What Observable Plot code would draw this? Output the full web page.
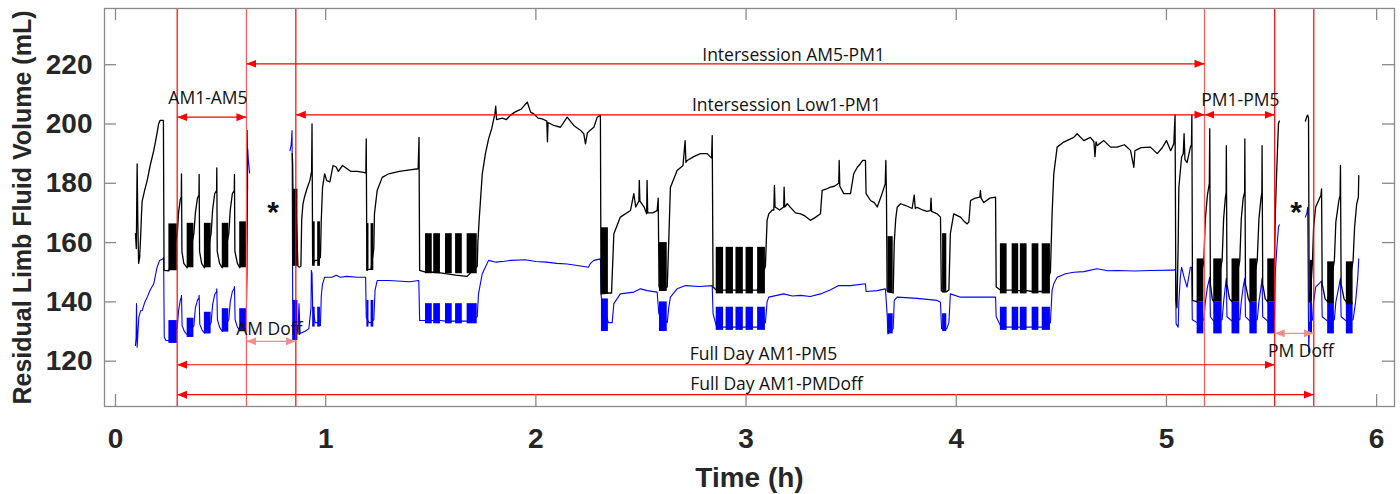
<!DOCTYPE html>
<html><head><meta charset="utf-8">
<script src="https://cdn.jsdelivr.net/npm/d3@7"></script>
<script src="https://cdn.jsdelivr.net/npm/@observablehq/plot@0.6"></script>
<style>body{margin:0;background:#fff}</style>
</head><body><div id="chart"></div>
<script>
// ---------- tick values ----------
const xTicks = [0, 1, 2, 3, 4, 5, 6];
const yTicks = [120, 140, 160, 180, 200, 220];

// ---------- black trace (t [h], volume [mL]) ----------
const blackAM = [[0.095,163],[0.099,158],[0.103,186.5],[0.106,168],[0.110,153],[0.115,155],[0.119,161],[0.124,170],[0.127,174],[0.140,178],[0.151,181],[0.165,186],[0.182,191],[0.190,194],[0.198,197],[0.205,200],[0.212,201.2],[0.228,201.2],[0.231,150.6],[0.254,150.5],
[0.294,163],[0.300,170],[0.308,174.5],[0.313,175.5],[0.314,183.2],[0.316,157],[0.325,153],[0.341,151.5],
[0.373,163],[0.380,170],[0.390,175],[0.397,176],[0.398,183],[0.400,157],[0.410,153],[0.423,151.5],
[0.455,163],[0.462,171],[0.472,176.5],[0.481,177.5],[0.482,185.2],[0.484,157],[0.495,153],[0.508,151.5],
[0.539,163],[0.546,171],[0.556,176.5],[0.565,177.5],[0.566,183],[0.568,157],[0.580,153],[0.591,151.5],
[0.623,160],[0.626,197.8],[0.628,178]];

const blackMid = [[0.841,190],[0.843,186],[0.846,160],[0.850,176],[0.855,155],[0.860,170],[0.868,152],[0.875,151.7],[0.882,152],[0.886,168],[0.892,173],[0.899,175.3],[0.910,178],[0.925,181],[0.933,184],[0.935,200],[0.938,152.8],[0.950,154],[0.962,154],[0.975,155],[0.979,167.5],[0.985,178.6],[0.995,183.2],[1.005,180.9],[1.02,180.5],[1.035,186],[1.05,185.5],[1.06,184],[1.08,186],[1.10,185],[1.12,184],[1.15,184],[1.18,183.7],[1.191,183.5],[1.193,195],[1.196,150.6],[1.206,151],[1.216,151],[1.229,158],[1.232,169.7],[1.245,177.6],[1.269,182],[1.30,183.2],[1.35,184],[1.40,184.5],[1.44,184.9],[1.444,195.5],[1.447,150.6],[1.475,150],
[1.507,150],[1.514,150],[1.546,149.8],[1.570,149.5],[1.602,149.2],[1.618,149],[1.650,148.8],[1.673,148.6],[1.721,152],
[1.724,160],[1.730,167.5],[1.745,183.2],[1.76,190],[1.775,195],[1.790,198.5],[1.805,203.4],[1.809,206],[1.813,201.5],[1.84,202],[1.86,201.5],[1.88,203],[1.90,204],[1.93,205],[1.959,207.4],[1.975,204],[1.99,203.4],[2.01,202],[2.03,201.7],[2.052,201],[2.055,194],[2.058,200.5],[2.085,199.5],[2.117,198.9],[2.149,202.3],[2.18,199.5],[2.21,198],[2.228,196.7],[2.236,193.3],[2.245,197],[2.26,198],[2.276,198.9],[2.292,202.3],[2.307,203],[2.310,142.7],
[2.345,143],[2.360,143],[2.371,163],[2.402,168.6],[2.45,170.8],[2.466,176.5],[2.475,172],[2.49,174],[2.492,181],[2.495,174],[2.515,172],[2.527,169.7],[2.529,181],[2.532,170],[2.555,170],[2.577,170.8],[2.582,175],[2.586,145],[2.625,145],[2.632,160],[2.64,178.6],[2.672,184.3],[2.70,186],[2.710,194.4],[2.714,187],[2.72,187.7],[2.751,189],[2.783,190],[2.815,190],[2.836,188.5],[2.839,196.1],[2.843,145],[2.858,144],
[2.893,144],[2.905,144],[2.94,144],[2.952,144],[2.987,144],[3.0,144],[3.035,144],[3.055,144],[3.092,152],
[3.100,167.5],[3.108,169.7],[3.125,171],[3.132,171],[3.135,179.3],[3.138,172],[3.16,171],[3.179,172],[3.181,178.7],[3.184,172],[3.196,173.1],[3.211,171.9],[3.235,170],[3.259,169.7],[3.28,169],[3.306,167.5],[3.33,168.5],[3.354,169.7],[3.362,177.6],[3.38,178],[3.401,178.7],[3.42,179],[3.441,180],[3.443,187.7],[3.446,179],[3.465,176.5],[3.497,176.5],[3.512,183.2],[3.53,185.5],[3.544,186.6],[3.555,187.7],[3.568,187.7],[3.571,176.5],[3.592,174.2],[3.61,173.5],[3.624,172],[3.647,176.5],[3.662,179.8],[3.665,187.7],[3.668,176],[3.671,143.8],[3.675,143.5],[3.70,143],[3.705,160],[3.712,168],[3.719,171.9],[3.735,173.1],[3.76,172.5],[3.79,171.5],[3.80,176],[3.805,171.5],[3.814,171.9],[3.84,171],[3.86,170.5],[3.877,170.8],[3.88,175],[3.883,170.5],[3.909,169.7],[3.925,168.6],[3.929,143.8],[3.935,143.5],[3.955,143.5],[3.965,144],[3.972,163],[3.988,169.7],[4.02,168.6],[4.04,167],[4.052,166.3],[4.06,167],[4.068,174.2],[4.09,175],[4.112,175.3],[4.115,177.6],[4.118,175],[4.131,173.5],[4.16,175],[4.187,175.3],[4.19,145],[4.21,144],
[4.242,144],[4.266,144],[4.297,143.8],[4.305,143.8],[4.337,143.8],[4.361,143.5],[4.393,143.5],[4.409,143.5],[4.448,150],
[4.456,169.7],[4.464,183.2],[4.48,192.2],[4.511,193.9],[4.559,195.5],[4.575,196.7],[4.607,194.4],[4.638,195.5],[4.655,194],[4.66,189],[4.665,194],[4.670,192.7],[4.702,194.4],[4.734,192.2],[4.765,192.2],[4.80,193],[4.829,191.1],[4.845,185.4],[4.85,191],[4.88,192],[4.924,192.2],[4.956,190],[4.98,192],[5.0,194.4],[5.02,191],[5.035,193.3],[5.041,203],[5.045,140.5],[5.05,138],[5.056,160],[5.059,178.6],[5.072,188.8],[5.08,190],[5.084,196.7],[5.088,188],[5.098,187],[5.114,192.2],[5.119,193],[5.121,203],[5.124,140.5],[5.146,140],
[5.178,154],[5.185,168],[5.195,176],[5.204,180],[5.206,198.4],[5.209,146],[5.218,141],[5.225,140],
[5.265,154],[5.272,168],[5.28,175],[5.284,177],[5.285,192.7],[5.288,146],[5.30,141],[5.312,140],
[5.349,154],[5.356,168],[5.365,175],[5.372,177],[5.373,195],[5.376,146],[5.39,141],[5.397,140],
[5.432,154],[5.44,168],[5.45,175],[5.454,177],[5.455,192.7],[5.458,146],[5.47,141],[5.482,140],
[5.514,154],[5.518,169.7],[5.525,185],[5.533,200.1],[5.537,201]];

const blackPM = [[5.661,201],[5.668,202.5],[5.672,203],[5.676,202],[5.679,140],[5.683,140],[5.695,154],[5.70,165],[5.71,172],[5.735,176],[5.738,178.1],[5.741,146],[5.755,141],[5.767,140],[5.799,154],[5.806,167],[5.82,174],[5.826,176],[5.828,186],[5.831,146],[5.845,141],[5.856,140],[5.888,154],[5.895,165],[5.905,173],[5.913,175.3],[5.915,182.6]];

// ---------- blue trace ----------
const blueAM = [[0.095,125.3],[0.098,128],[0.100,139.4],[0.103,124.7],[0.107,130],[0.111,134.8],[0.119,137],[0.127,137.1],[0.14,140],[0.151,141.6],[0.165,144],[0.182,146.1],[0.198,151.7],[0.21,154],[0.225,154.5],[0.229,155],[0.232,128.1],[0.24,127],[0.254,127],
[0.294,131.5],[0.300,137],[0.308,140.5],[0.313,141.5],[0.314,142.2],[0.317,132],[0.328,130],[0.341,129],
[0.373,132],[0.38,138],[0.39,140.5],[0.397,141.5],[0.398,142.2],[0.401,132.5],[0.412,130.5],[0.423,129.5],
[0.455,133],[0.462,139],[0.472,142.5],[0.481,143.5],[0.482,144.4],[0.485,134],[0.495,131.5],[0.508,130],
[0.539,134],[0.546,140],[0.556,143.5],[0.565,144.5],[0.566,145.2],[0.569,134],[0.58,131.5],[0.591,130.5],
[0.623,138],[0.626,150],[0.629,191.7],[0.632,188],[0.638,183.5]];

const blueMid = [[0.830,191],[0.836,193],[0.840,197.8],[0.843,140.5],[0.868,129.3],[0.873,139.4],[0.878,129.3],[0.90,130],[0.92,131],[0.930,138],[0.932,150.6],[0.935,149.5],[0.938,138.2],[0.950,133],[0.962,133],[0.975,132],[0.979,142],[0.985,146],[0.995,148.3],[1.03,148.3],[1.05,149],[1.07,148.3],[1.10,148.6],[1.15,148.3],[1.19,148.3],[1.193,134.8],[1.206,133],[1.216,133],[1.229,134],[1.235,144],[1.245,147.2],[1.30,147.2],[1.40,146.8],[1.443,147.2],[1.447,133.7],[1.475,133.7],
[1.507,133.7],[1.514,133.7],[1.546,133.7],[1.570,133.5],[1.602,133.5],[1.618,133.5],[1.650,133.5],[1.673,133.5],[1.721,135],
[1.727,142.7],[1.745,149.5],[1.775,154],[1.81,153.4],[1.85,153.7],[1.88,154],[1.95,154.2],[2.0,153.6],[2.05,153.4],[2.10,153],[2.149,152.8],[2.22,152],[2.25,151.7],[2.26,153],[2.276,154],[2.307,154.5],[2.311,141.6],[2.345,133],[2.363,133],[2.371,139.4],[2.402,142.7],[2.466,143.3],[2.498,144.4],[2.529,143.8],[2.577,143.3],[2.585,136],[2.625,133],[2.632,138],[2.64,141.6],[2.672,144.4],[2.712,145.5],[2.78,145.2],[2.839,145.5],[2.843,136],[2.858,132],
[2.893,131.5],[2.905,131.5],[2.94,131.5],[2.952,131.5],[2.987,131.5],[3.0,131.5],[3.035,131.5],[3.055,131.5],[3.092,133],
[3.10,140],[3.108,141.6],[3.179,142.7],[3.22,142],[3.259,142.2],[3.306,141.8],[3.354,142.7],[3.40,144],[3.441,145.5],[3.497,145.5],[3.568,146.1],[3.571,143.5],[3.624,143.8],[3.663,144.4],[3.671,136],[3.675,129.2],[3.70,131],[3.705,140.5],[3.719,141.6],[3.814,141.2],[3.909,140.5],[3.925,139.9],[3.93,131],[3.955,131],[3.965,133],[3.972,142.7],[4.02,141.6],[4.115,141.6],[4.187,141.6],[4.19,135],[4.21,132],
[4.242,131.5],[4.266,131.5],[4.297,131.5],[4.305,131.5],[4.337,131.5],[4.361,131.5],[4.393,131.5],[4.409,131.5],[4.448,133],
[4.456,144],[4.464,146.1],[4.48,148.3],[4.52,149.5],[4.559,150],[4.607,150.2],[4.67,151.2],[4.72,150.5],[4.765,150.6],[4.85,150.4],[4.924,150.6],[5.035,150.7],[5.043,151],[5.046,132.6],[5.056,131.5],[5.059,140],[5.066,148.3],[5.072,151.7],[5.085,148],[5.098,145],[5.114,151.7],[5.12,151.7],[5.123,134],[5.146,133],
[5.178,134],[5.185,140],[5.195,145],[5.206,148.3],[5.209,135],[5.225,133.5],
[5.265,134],[5.272,140],[5.28,145],[5.285,148],[5.288,135],[5.312,133.5],
[5.349,134],[5.356,140],[5.365,145],[5.373,148],[5.376,135],[5.397,133.5],
[5.432,134],[5.44,140],[5.45,145],[5.455,148],[5.458,135],[5.482,133.5],
[5.514,134],[5.518,150],[5.525,158],[5.533,165.2],[5.537,166]];

const bluePM = [[5.661,168.6],[5.668,170],[5.672,171.9],[5.675,140],[5.677,123],[5.680,133],[5.683,133],[5.695,134],[5.70,140],[5.71,145],[5.738,147],[5.741,135],[5.767,133.5],[5.799,134],[5.806,140],[5.82,145],[5.828,148],[5.831,135],[5.856,133.5],[5.888,134],[5.90,140],[5.91,148],[5.915,154.5]];

// ---------- dense oscillation bursts (start, end, black range, blue range) ----------
const burstStart = [0.254,0.341,0.423,0.508,0.591, 0.843,0.938,0.962,1.196,1.216, 1.475,1.514,1.570,1.618,1.673, 2.312,2.588, 2.858,2.905,2.952,3.000,3.055, 3.675,3.935, 4.210,4.266,4.305,4.361,4.409, 5.146,5.225,5.312,5.397,5.482, 5.683,5.767,5.856];
const burstEnd   = [0.294,0.373,0.455,0.539,0.623, 0.868,0.950,0.975,1.206,1.229, 1.507,1.546,1.602,1.650,1.721, 2.345,2.625, 2.893,2.940,2.987,3.035,3.092, 3.700,3.955, 4.242,4.297,4.337,4.393,4.448, 5.178,5.265,5.349,5.432,5.514, 5.695,5.799,5.888];
const blackLow   = [150.5,151.5,151.5,151.5,151.5, 152,152,152,150.6,150.6, 149.5,149.5,149.5,149.5,149.5, 142.7,143.5, 142.7,142.7,142.7,142.7,142.7, 143,143, 142.7,142.7,142.7,142.7,142.7, 139.9,139.9,139.9,139.9,139.9, 139.9,139.5,139];
const blackHigh  = [166.3,166.5,166.5,166.5,167, 178,167,167,166.4,166.4, 163,163,163,163,163, 165,160, 158.4,158.4,158.4,158.4,158.4, 162,163, 159.6,159.6,159.6,159.6,159.6, 154.5,154.5,154.5,154.5,154.5, 154,153.5,153.5];
const blueLow    = [126,128,129.2,129.8,130, 127,131.5,131.5,131.5,131.5, 132.6,132.6,132.6,132.6,132.6, 130,130, 130.4,130.4,130.4,130.4,130.4, 129.2,130, 130.4,130.4,130.4,130.4,130.4, 129.2,129.2,129.2,129.2,129.2, 129.2,129.2,129.2];
const blueHigh   = [133.7,134.5,136.5,137.7,137.7, 140.5,138.2,138.2,140.5,140.5, 139.4,139.4,139.4,139.4,139.4, 141,140, 138.2,138.2,138.2,138.2,138.2, 136,136, 138.2,138.2,138.2,138.2,138.2, 139.9,139.9,139.9,139.9,139.9, 139.9,139.9,139.9];

// ---------- annotations ----------
const markerLines = [0.2935, 0.858, 5.515, 5.701];
const markerLinesLight = [0.623, 5.181];
const spanLabel = ["Intersession AM5-PM1","Intersession Low1-PM1","AM1-AM5","PM1-PM5","AM Doff","PM Doff","Full Day AM1-PM5","Full Day AM1-PMDoff"];
const spanFrom  = [0.623, 0.858, 0.2935, 5.181, 0.623, 5.515, 0.2935, 0.2935];
const spanTo    = [5.181, 5.181, 0.623, 5.515, 0.858, 5.701, 5.515, 5.701];
const spanY     = [220.3, 203.1, 202.3, 203.1, 126.7, 129.4, 118.8, 108.7];
const spanKind  = ["main","main","main","main","doff","doff","main","main"];
const labelX    = [3.226, 3.192, 0.440, 5.352, 0.732, 5.640, 3.083, 3.145];
const labelY    = [221.2, 204.3, 206.8, 206.2, 128.7, 121.35, 120.25, 110.35];
const starX = [0.750, 5.617];
const starY = [166.9, 166.9];

// ---------- build tables ----------
const toRows = (arr, seg) => arr.map(([t, v]) => ({t, v, seg}));
const black = [...toRows(blackAM, "a"), ...toRows(blackMid, "b"), ...toRows(blackPM, "c")];
const blue  = [...toRows(blueAM, "a"), ...toRows(blueMid, "b"), ...toRows(bluePM, "c")];
const bursts = burstStart.map((s, i) => ({s, e: burstEnd[i], bl: blackLow[i], bh: blackHigh[i], ul: blueLow[i], uh: blueHigh[i]}));
const spans = spanLabel.map((label, i) => ({label, x1: spanFrom[i], x2: spanTo[i], y: spanY[i], kind: spanKind[i], lx: labelX[i], ly: labelY[i]}));
const stars = starX.map((x, i) => ({x, y: starY[i]}));

function head(color) {
  const m = d3.create("svg:marker")
    .attr("viewBox", "0 -5 10 10")
    .attr("refX", 10).attr("refY", 0)
    .attr("markerWidth", 10).attr("markerHeight", 10)
    .attr("markerUnits", "userSpaceOnUse")
    .attr("orient", "auto-start-reverse");
  m.append("path").attr("d", "M0,-4L10,0L0,4Z").attr("fill", color).attr("stroke", "none");
  return m.node();
}

const W = 1400, H = 494, ML = 104, MR = 6, MT = 8, MB = 88;
const xDomain = [-0.0523, 6.085], yDomain = [104.72, 238.95];
const frameW = W - ML - MR, frameH = H - MT - MB, tickLen = 12;
// inward tick length expressed in each scale's units
const tx = tickLen * (xDomain[1] - xDomain[0]) / frameW;
const ty = tickLen * (yDomain[1] - yDomain[0]) / frameH;
const axisGray = "#8a8a8a";
const ink = "#262626";
const tickFont = {fontSize: 28, fontWeight: "bold", fill: ink};
const tickStyle = {stroke: axisGray, strokeWidth: 1.3};

const chart = Plot.plot({
  width: W, height: H,
  marginLeft: ML, marginRight: MR, marginTop: MT, marginBottom: MB,
  style: {fontFamily: "'Liberation Sans', Arial, sans-serif", background: "#fff", overflow: "visible"},
  x: {domain: xDomain},
  y: {domain: yDomain},
  marks: [
    Plot.rect(bursts, {x1: "s", x2: "e", y1: "ul", y2: "uh", fill: "#0000ff"}),
    Plot.line(blue, {x: "t", y: "v", z: "seg", stroke: "#0000ff", strokeWidth: 1.1}),
    Plot.rect(bursts, {x1: "s", x2: "e", y1: "bl", y2: "bh", fill: "#000"}),
    Plot.line(black, {x: "t", y: "v", z: "seg", stroke: "#000", strokeWidth: 1.3}),
    Plot.ruleX(markerLines, {stroke: "#ff0000", strokeWidth: 1.2}),
    Plot.ruleX(markerLinesLight, {stroke: "#ff5a5a", strokeWidth: 1.2}),
    Plot.link(spans, {x1: "x1", x2: "x2", y1: "y", y2: "y",
      stroke: d => d.kind === "doff" ? "#ff8a8a" : "#ff0000", strokeWidth: 1.2,
      markerStart: head, markerEnd: head}),
    Plot.text(spans, {x: "lx", y: "ly", text: "label", lineAnchor: "bottom", fontFamily: "'Open Sans', sans-serif", fontSize: 17.5, fill: "#111"}),
    Plot.text(stars, {x: "x", y: "y", text: () => "*", lineAnchor: "bottom", fontSize: 30, fontWeight: "bold", fill: "#111"}),
    Plot.frame({stroke: axisGray, strokeWidth: 1.3}),
    // inward MATLAB-style ticks on all four sides
    Plot.ruleX(xTicks, {y1: yDomain[0], y2: yDomain[0] + ty, ...tickStyle}),
    Plot.ruleX(xTicks, {y1: yDomain[1] - ty, y2: yDomain[1], ...tickStyle}),
    Plot.ruleY(yTicks, {x1: xDomain[0], x2: xDomain[0] + tx, ...tickStyle}),
    Plot.ruleY(yTicks, {x1: xDomain[1] - tx, x2: xDomain[1], ...tickStyle}),
    Plot.axisX({anchor: "bottom", ticks: xTicks, tickSize: 0, tickPadding: 22, tickFormat: d3.format("d"), label: null, ...tickFont}),
    Plot.axisY({anchor: "left", ticks: yTicks, tickSize: 0, tickPadding: 12, tickFormat: d3.format("d"), label: null, ...tickFont}),
    Plot.text(["Time (h)"], {frameAnchor: "bottom", dy: 80, lineAnchor: "bottom", fontSize: 28, fontWeight: "bold", fill: ink}),
    Plot.text(["Residual Limb Fluid Volume (mL)"], {frameAnchor: "left", dx: -74, rotate: -90, textAnchor: "middle", lineAnchor: "bottom", fontSize: 25, fontWeight: "bold", fill: ink})
  ]
});
document.getElementById("chart").appendChild(chart);
</script>
</body></html>
